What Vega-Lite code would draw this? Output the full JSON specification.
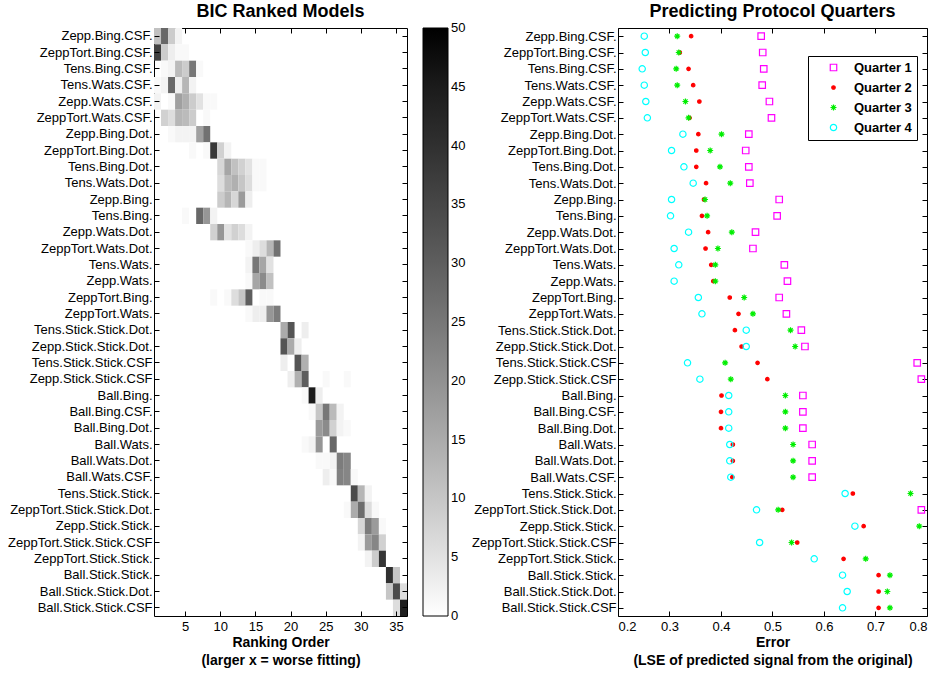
{
  "$schema": "https://vega.github.io/schema/vega-lite/v6.json",
  "padding": {"left": 7, "top": 2, "right": 5, "bottom": 5},
  "background": "white",
  "config": {
    "font": "Liberation Sans",
    "view": {"stroke": "black", "strokeWidth": 1},
    "axis": {"grid": false, "domain": false, "tickColor": "black", "tickSize": -5, "labelFontSize": 13, "labelColor": "black", "titleFontSize": 14, "titleFontWeight": "bold", "titleColor": "black", "labelPadding": 7, "titleLineHeight": 18},
    "axisX": {"labelPadding": 9, "titlePadding": 2},
    "title": {"fontSize": 18, "fontWeight": "bold", "color": "black", "offset": 7}
  },
  "spacing": 4,
  "resolve": {"legend": {"color": "independent", "shape": "independent", "stroke": "independent", "fill": "independent", "size": "independent"}},
  "datasets": {
    "heat": [
      {"model": "Zepp.Bing.CSF.", "rank": 1, "count": 11}, {"model": "Zepp.Bing.CSF.", "rank": 2, "count": 28}, {"model": "Zepp.Bing.CSF.", "rank": 3, "count": 9}, {"model": "Zepp.Bing.CSF.", "rank": 4, "count": 2},
      {"model": "ZeppTort.Bing.CSF.", "rank": 1, "count": 36}, {"model": "ZeppTort.Bing.CSF.", "rank": 2, "count": 9}, {"model": "ZeppTort.Bing.CSF.", "rank": 3, "count": 3}, {"model": "ZeppTort.Bing.CSF.", "rank": 4, "count": 1}, {"model": "ZeppTort.Bing.CSF.", "rank": 5, "count": 1},
      {"model": "Tens.Bing.CSF.", "rank": 2, "count": 1}, {"model": "Tens.Bing.CSF.", "rank": 3, "count": 2}, {"model": "Tens.Bing.CSF.", "rank": 4, "count": 12}, {"model": "Tens.Bing.CSF.", "rank": 5, "count": 9}, {"model": "Tens.Bing.CSF.", "rank": 6, "count": 25}, {"model": "Tens.Bing.CSF.", "rank": 7, "count": 1},
      {"model": "Tens.Wats.CSF.", "rank": 1, "count": 1}, {"model": "Tens.Wats.CSF.", "rank": 2, "count": 2}, {"model": "Tens.Wats.CSF.", "rank": 3, "count": 28}, {"model": "Tens.Wats.CSF.", "rank": 4, "count": 3}, {"model": "Tens.Wats.CSF.", "rank": 5, "count": 13}, {"model": "Tens.Wats.CSF.", "rank": 6, "count": 2},
      {"model": "Zepp.Wats.CSF.", "rank": 1, "count": 2}, {"model": "Zepp.Wats.CSF.", "rank": 3, "count": 1}, {"model": "Zepp.Wats.CSF.", "rank": 4, "count": 17}, {"model": "Zepp.Wats.CSF.", "rank": 5, "count": 14}, {"model": "Zepp.Wats.CSF.", "rank": 6, "count": 9}, {"model": "Zepp.Wats.CSF.", "rank": 7, "count": 5}, {"model": "Zepp.Wats.CSF.", "rank": 8, "count": 1}, {"model": "Zepp.Wats.CSF.", "rank": 9, "count": 1},
      {"model": "ZeppTort.Wats.CSF.", "rank": 2, "count": 8}, {"model": "ZeppTort.Wats.CSF.", "rank": 3, "count": 6}, {"model": "ZeppTort.Wats.CSF.", "rank": 4, "count": 13}, {"model": "ZeppTort.Wats.CSF.", "rank": 5, "count": 12}, {"model": "ZeppTort.Wats.CSF.", "rank": 6, "count": 9}, {"model": "ZeppTort.Wats.CSF.", "rank": 8, "count": 1},
      {"model": "Zepp.Bing.Dot.", "rank": 3, "count": 1}, {"model": "Zepp.Bing.Dot.", "rank": 4, "count": 2}, {"model": "Zepp.Bing.Dot.", "rank": 5, "count": 2}, {"model": "Zepp.Bing.Dot.", "rank": 6, "count": 2}, {"model": "Zepp.Bing.Dot.", "rank": 7, "count": 17}, {"model": "Zepp.Bing.Dot.", "rank": 8, "count": 26},
      {"model": "ZeppTort.Bing.Dot.", "rank": 6, "count": 1}, {"model": "ZeppTort.Bing.Dot.", "rank": 8, "count": 1}, {"model": "ZeppTort.Bing.Dot.", "rank": 9, "count": 38}, {"model": "ZeppTort.Bing.Dot.", "rank": 10, "count": 8}, {"model": "ZeppTort.Bing.Dot.", "rank": 11, "count": 2},
      {"model": "Tens.Bing.Dot.", "rank": 10, "count": 7}, {"model": "Tens.Bing.Dot.", "rank": 11, "count": 16}, {"model": "Tens.Bing.Dot.", "rank": 12, "count": 11}, {"model": "Tens.Bing.Dot.", "rank": 13, "count": 8}, {"model": "Tens.Bing.Dot.", "rank": 14, "count": 5}, {"model": "Tens.Bing.Dot.", "rank": 15, "count": 1}, {"model": "Tens.Bing.Dot.", "rank": 16, "count": 1},
      {"model": "Tens.Wats.Dot.", "rank": 10, "count": 6}, {"model": "Tens.Wats.Dot.", "rank": 11, "count": 12}, {"model": "Tens.Wats.Dot.", "rank": 12, "count": 14}, {"model": "Tens.Wats.Dot.", "rank": 13, "count": 10}, {"model": "Tens.Wats.Dot.", "rank": 14, "count": 6}, {"model": "Tens.Wats.Dot.", "rank": 15, "count": 1}, {"model": "Tens.Wats.Dot.", "rank": 16, "count": 1},
      {"model": "Zepp.Bing.", "rank": 10, "count": 9}, {"model": "Zepp.Bing.", "rank": 11, "count": 13}, {"model": "Zepp.Bing.", "rank": 12, "count": 7}, {"model": "Zepp.Bing.", "rank": 13, "count": 18}, {"model": "Zepp.Bing.", "rank": 14, "count": 3},
      {"model": "Tens.Bing.", "rank": 5, "count": 1}, {"model": "Tens.Bing.", "rank": 7, "count": 28}, {"model": "Tens.Bing.", "rank": 8, "count": 19}, {"model": "Tens.Bing.", "rank": 9, "count": 2},
      {"model": "Zepp.Wats.Dot.", "rank": 9, "count": 8}, {"model": "Zepp.Wats.Dot.", "rank": 10, "count": 19}, {"model": "Zepp.Wats.Dot.", "rank": 11, "count": 5}, {"model": "Zepp.Wats.Dot.", "rank": 12, "count": 8}, {"model": "Zepp.Wats.Dot.", "rank": 13, "count": 6}, {"model": "Zepp.Wats.Dot.", "rank": 14, "count": 2},
      {"model": "ZeppTort.Wats.Dot.", "rank": 14, "count": 1}, {"model": "ZeppTort.Wats.Dot.", "rank": 15, "count": 3}, {"model": "ZeppTort.Wats.Dot.", "rank": 16, "count": 6}, {"model": "ZeppTort.Wats.Dot.", "rank": 17, "count": 13}, {"model": "ZeppTort.Wats.Dot.", "rank": 18, "count": 26},
      {"model": "Tens.Wats.", "rank": 14, "count": 2}, {"model": "Tens.Wats.", "rank": 15, "count": 25}, {"model": "Tens.Wats.", "rank": 16, "count": 16}, {"model": "Tens.Wats.", "rank": 17, "count": 5},
      {"model": "Zepp.Wats.", "rank": 14, "count": 1}, {"model": "Zepp.Wats.", "rank": 15, "count": 16}, {"model": "Zepp.Wats.", "rank": 16, "count": 21}, {"model": "Zepp.Wats.", "rank": 17, "count": 11},
      {"model": "ZeppTort.Bing.", "rank": 9, "count": 1}, {"model": "ZeppTort.Bing.", "rank": 11, "count": 1}, {"model": "ZeppTort.Bing.", "rank": 12, "count": 6}, {"model": "ZeppTort.Bing.", "rank": 13, "count": 10}, {"model": "ZeppTort.Bing.", "rank": 14, "count": 30}, {"model": "ZeppTort.Bing.", "rank": 16, "count": 1}, {"model": "ZeppTort.Bing.", "rank": 17, "count": 1},
      {"model": "ZeppTort.Wats.", "rank": 14, "count": 1}, {"model": "ZeppTort.Wats.", "rank": 15, "count": 3}, {"model": "ZeppTort.Wats.", "rank": 16, "count": 3}, {"model": "ZeppTort.Wats.", "rank": 17, "count": 19}, {"model": "ZeppTort.Wats.", "rank": 18, "count": 24},
      {"model": "Tens.Stick.Stick.Dot.", "rank": 19, "count": 15}, {"model": "Tens.Stick.Stick.Dot.", "rank": 20, "count": 32}, {"model": "Tens.Stick.Stick.Dot.", "rank": 22, "count": 3},
      {"model": "Zepp.Stick.Stick.Dot.", "rank": 19, "count": 32}, {"model": "Zepp.Stick.Stick.Dot.", "rank": 20, "count": 15}, {"model": "Zepp.Stick.Stick.Dot.", "rank": 21, "count": 3},
      {"model": "Tens.Stick.Stick.CSF", "rank": 19, "count": 3}, {"model": "Tens.Stick.Stick.CSF", "rank": 21, "count": 32}, {"model": "Tens.Stick.Stick.CSF", "rank": 22, "count": 14},
      {"model": "Zepp.Stick.Stick.CSF", "rank": 20, "count": 3}, {"model": "Zepp.Stick.Stick.CSF", "rank": 21, "count": 14}, {"model": "Zepp.Stick.Stick.CSF", "rank": 22, "count": 30}, {"model": "Zepp.Stick.Stick.CSF", "rank": 25, "count": 1}, {"model": "Zepp.Stick.Stick.CSF", "rank": 28, "count": 1},
      {"model": "Ball.Bing.", "rank": 22, "count": 1}, {"model": "Ball.Bing.", "rank": 23, "count": 45}, {"model": "Ball.Bing.", "rank": 24, "count": 3},
      {"model": "Ball.Bing.CSF.", "rank": 23, "count": 1}, {"model": "Ball.Bing.CSF.", "rank": 24, "count": 10}, {"model": "Ball.Bing.CSF.", "rank": 25, "count": 25}, {"model": "Ball.Bing.CSF.", "rank": 26, "count": 12}, {"model": "Ball.Bing.CSF.", "rank": 27, "count": 2},
      {"model": "Ball.Bing.Dot.", "rank": 24, "count": 18}, {"model": "Ball.Bing.Dot.", "rank": 25, "count": 21}, {"model": "Ball.Bing.Dot.", "rank": 26, "count": 8}, {"model": "Ball.Bing.Dot.", "rank": 27, "count": 2}, {"model": "Ball.Bing.Dot.", "rank": 28, "count": 1},
      {"model": "Ball.Wats.", "rank": 22, "count": 1}, {"model": "Ball.Wats.", "rank": 23, "count": 2}, {"model": "Ball.Wats.", "rank": 24, "count": 19}, {"model": "Ball.Wats.", "rank": 26, "count": 28},
      {"model": "Ball.Wats.Dot.", "rank": 24, "count": 1}, {"model": "Ball.Wats.Dot.", "rank": 25, "count": 1}, {"model": "Ball.Wats.Dot.", "rank": 26, "count": 2}, {"model": "Ball.Wats.Dot.", "rank": 27, "count": 24}, {"model": "Ball.Wats.Dot.", "rank": 28, "count": 22},
      {"model": "Ball.Wats.CSF.", "rank": 25, "count": 3}, {"model": "Ball.Wats.CSF.", "rank": 26, "count": 1}, {"model": "Ball.Wats.CSF.", "rank": 27, "count": 23}, {"model": "Ball.Wats.CSF.", "rank": 28, "count": 22}, {"model": "Ball.Wats.CSF.", "rank": 29, "count": 1},
      {"model": "Tens.Stick.Stick.", "rank": 29, "count": 34}, {"model": "Tens.Stick.Stick.", "rank": 30, "count": 13}, {"model": "Tens.Stick.Stick.", "rank": 31, "count": 2},
      {"model": "ZeppTort.Stick.Stick.Dot.", "rank": 28, "count": 1}, {"model": "ZeppTort.Stick.Stick.Dot.", "rank": 29, "count": 15}, {"model": "ZeppTort.Stick.Stick.Dot.", "rank": 30, "count": 27}, {"model": "ZeppTort.Stick.Stick.Dot.", "rank": 31, "count": 6}, {"model": "ZeppTort.Stick.Stick.Dot.", "rank": 32, "count": 1},
      {"model": "Zepp.Stick.Stick.", "rank": 30, "count": 7}, {"model": "Zepp.Stick.Stick.", "rank": 31, "count": 24}, {"model": "Zepp.Stick.Stick.", "rank": 32, "count": 18}, {"model": "Zepp.Stick.Stick.", "rank": 33, "count": 1},
      {"model": "ZeppTort.Stick.Stick.CSF", "rank": 30, "count": 2}, {"model": "ZeppTort.Stick.Stick.CSF", "rank": 31, "count": 18}, {"model": "ZeppTort.Stick.Stick.CSF", "rank": 32, "count": 22}, {"model": "ZeppTort.Stick.Stick.CSF", "rank": 33, "count": 8},
      {"model": "ZeppTort.Stick.Stick.", "rank": 31, "count": 2}, {"model": "ZeppTort.Stick.Stick.", "rank": 32, "count": 9}, {"model": "ZeppTort.Stick.Stick.", "rank": 33, "count": 39},
      {"model": "Ball.Stick.Stick.", "rank": 34, "count": 40}, {"model": "Ball.Stick.Stick.", "rank": 35, "count": 10},
      {"model": "Ball.Stick.Stick.Dot.", "rank": 34, "count": 10}, {"model": "Ball.Stick.Stick.Dot.", "rank": 35, "count": 34}, {"model": "Ball.Stick.Stick.Dot.", "rank": 36, "count": 6},
      {"model": "Ball.Stick.Stick.CSF", "rank": 35, "count": 6}, {"model": "Ball.Stick.Stick.CSF", "rank": 36, "count": 44}
    ],
    "err": [
      {"model": "Zepp.Bing.CSF.", "q": "Quarter 1", "e": 0.478}, {"model": "Zepp.Bing.CSF.", "q": "Quarter 2", "e": 0.342}, {"model": "Zepp.Bing.CSF.", "q": "Quarter 3", "e": 0.315}, {"model": "Zepp.Bing.CSF.", "q": "Quarter 4", "e": 0.251},
      {"model": "ZeppTort.Bing.CSF.", "q": "Quarter 1", "e": 0.481}, {"model": "ZeppTort.Bing.CSF.", "q": "Quarter 2", "e": 0.32}, {"model": "ZeppTort.Bing.CSF.", "q": "Quarter 3", "e": 0.318}, {"model": "ZeppTort.Bing.CSF.", "q": "Quarter 4", "e": 0.253},
      {"model": "Tens.Bing.CSF.", "q": "Quarter 1", "e": 0.483}, {"model": "Tens.Bing.CSF.", "q": "Quarter 2", "e": 0.337}, {"model": "Tens.Bing.CSF.", "q": "Quarter 3", "e": 0.313}, {"model": "Tens.Bing.CSF.", "q": "Quarter 4", "e": 0.247},
      {"model": "Tens.Wats.CSF.", "q": "Quarter 1", "e": 0.48}, {"model": "Tens.Wats.CSF.", "q": "Quarter 2", "e": 0.346}, {"model": "Tens.Wats.CSF.", "q": "Quarter 3", "e": 0.315}, {"model": "Tens.Wats.CSF.", "q": "Quarter 4", "e": 0.251},
      {"model": "Zepp.Wats.CSF.", "q": "Quarter 1", "e": 0.494}, {"model": "Zepp.Wats.CSF.", "q": "Quarter 2", "e": 0.358}, {"model": "Zepp.Wats.CSF.", "q": "Quarter 3", "e": 0.331}, {"model": "Zepp.Wats.CSF.", "q": "Quarter 4", "e": 0.254},
      {"model": "ZeppTort.Wats.CSF.", "q": "Quarter 1", "e": 0.498}, {"model": "ZeppTort.Wats.CSF.", "q": "Quarter 2", "e": 0.339}, {"model": "ZeppTort.Wats.CSF.", "q": "Quarter 3", "e": 0.337}, {"model": "ZeppTort.Wats.CSF.", "q": "Quarter 4", "e": 0.257},
      {"model": "Zepp.Bing.Dot.", "q": "Quarter 1", "e": 0.454}, {"model": "Zepp.Bing.Dot.", "q": "Quarter 2", "e": 0.356}, {"model": "Zepp.Bing.Dot.", "q": "Quarter 3", "e": 0.401}, {"model": "Zepp.Bing.Dot.", "q": "Quarter 4", "e": 0.326},
      {"model": "ZeppTort.Bing.Dot.", "q": "Quarter 1", "e": 0.448}, {"model": "ZeppTort.Bing.Dot.", "q": "Quarter 2", "e": 0.352}, {"model": "ZeppTort.Bing.Dot.", "q": "Quarter 3", "e": 0.379}, {"model": "ZeppTort.Bing.Dot.", "q": "Quarter 4", "e": 0.304},
      {"model": "Tens.Bing.Dot.", "q": "Quarter 1", "e": 0.454}, {"model": "Tens.Bing.Dot.", "q": "Quarter 2", "e": 0.352}, {"model": "Tens.Bing.Dot.", "q": "Quarter 3", "e": 0.398}, {"model": "Tens.Bing.Dot.", "q": "Quarter 4", "e": 0.328},
      {"model": "Tens.Wats.Dot.", "q": "Quarter 1", "e": 0.456}, {"model": "Tens.Wats.Dot.", "q": "Quarter 2", "e": 0.371}, {"model": "Tens.Wats.Dot.", "q": "Quarter 3", "e": 0.418}, {"model": "Tens.Wats.Dot.", "q": "Quarter 4", "e": 0.346},
      {"model": "Zepp.Bing.", "q": "Quarter 1", "e": 0.513}, {"model": "Zepp.Bing.", "q": "Quarter 2", "e": 0.367}, {"model": "Zepp.Bing.", "q": "Quarter 3", "e": 0.369}, {"model": "Zepp.Bing.", "q": "Quarter 4", "e": 0.304},
      {"model": "Tens.Bing.", "q": "Quarter 1", "e": 0.509}, {"model": "Tens.Bing.", "q": "Quarter 2", "e": 0.363}, {"model": "Tens.Bing.", "q": "Quarter 3", "e": 0.373}, {"model": "Tens.Bing.", "q": "Quarter 4", "e": 0.302},
      {"model": "Zepp.Wats.Dot.", "q": "Quarter 1", "e": 0.467}, {"model": "Zepp.Wats.Dot.", "q": "Quarter 2", "e": 0.375}, {"model": "Zepp.Wats.Dot.", "q": "Quarter 3", "e": 0.421}, {"model": "Zepp.Wats.Dot.", "q": "Quarter 4", "e": 0.337},
      {"model": "ZeppTort.Wats.Dot.", "q": "Quarter 1", "e": 0.462}, {"model": "ZeppTort.Wats.Dot.", "q": "Quarter 2", "e": 0.37}, {"model": "ZeppTort.Wats.Dot.", "q": "Quarter 3", "e": 0.394}, {"model": "ZeppTort.Wats.Dot.", "q": "Quarter 4", "e": 0.309},
      {"model": "Tens.Wats.", "q": "Quarter 1", "e": 0.523}, {"model": "Tens.Wats.", "q": "Quarter 2", "e": 0.381}, {"model": "Tens.Wats.", "q": "Quarter 3", "e": 0.389}, {"model": "Tens.Wats.", "q": "Quarter 4", "e": 0.318},
      {"model": "Zepp.Wats.", "q": "Quarter 1", "e": 0.529}, {"model": "Zepp.Wats.", "q": "Quarter 2", "e": 0.385}, {"model": "Zepp.Wats.", "q": "Quarter 3", "e": 0.389}, {"model": "Zepp.Wats.", "q": "Quarter 4", "e": 0.309},
      {"model": "ZeppTort.Bing.", "q": "Quarter 1", "e": 0.513}, {"model": "ZeppTort.Bing.", "q": "Quarter 2", "e": 0.417}, {"model": "ZeppTort.Bing.", "q": "Quarter 3", "e": 0.445}, {"model": "ZeppTort.Bing.", "q": "Quarter 4", "e": 0.356},
      {"model": "ZeppTort.Wats.", "q": "Quarter 1", "e": 0.527}, {"model": "ZeppTort.Wats.", "q": "Quarter 2", "e": 0.434}, {"model": "ZeppTort.Wats.", "q": "Quarter 3", "e": 0.462}, {"model": "ZeppTort.Wats.", "q": "Quarter 4", "e": 0.363},
      {"model": "Tens.Stick.Stick.Dot.", "q": "Quarter 1", "e": 0.556}, {"model": "Tens.Stick.Stick.Dot.", "q": "Quarter 2", "e": 0.427}, {"model": "Tens.Stick.Stick.Dot.", "q": "Quarter 3", "e": 0.535}, {"model": "Tens.Stick.Stick.Dot.", "q": "Quarter 4", "e": 0.449},
      {"model": "Zepp.Stick.Stick.Dot.", "q": "Quarter 1", "e": 0.563}, {"model": "Zepp.Stick.Stick.Dot.", "q": "Quarter 2", "e": 0.44}, {"model": "Zepp.Stick.Stick.Dot.", "q": "Quarter 3", "e": 0.544}, {"model": "Zepp.Stick.Stick.Dot.", "q": "Quarter 4", "e": 0.449},
      {"model": "Tens.Stick.Stick.CSF", "q": "Quarter 1", "e": 0.781}, {"model": "Tens.Stick.Stick.CSF", "q": "Quarter 2", "e": 0.471}, {"model": "Tens.Stick.Stick.CSF", "q": "Quarter 3", "e": 0.408}, {"model": "Tens.Stick.Stick.CSF", "q": "Quarter 4", "e": 0.335},
      {"model": "Zepp.Stick.Stick.CSF", "q": "Quarter 1", "e": 0.789}, {"model": "Zepp.Stick.Stick.CSF", "q": "Quarter 2", "e": 0.49}, {"model": "Zepp.Stick.Stick.CSF", "q": "Quarter 3", "e": 0.419}, {"model": "Zepp.Stick.Stick.CSF", "q": "Quarter 4", "e": 0.359},
      {"model": "Ball.Bing.", "q": "Quarter 1", "e": 0.559}, {"model": "Ball.Bing.", "q": "Quarter 2", "e": 0.401}, {"model": "Ball.Bing.", "q": "Quarter 3", "e": 0.525}, {"model": "Ball.Bing.", "q": "Quarter 4", "e": 0.415},
      {"model": "Ball.Bing.CSF.", "q": "Quarter 1", "e": 0.559}, {"model": "Ball.Bing.CSF.", "q": "Quarter 2", "e": 0.4}, {"model": "Ball.Bing.CSF.", "q": "Quarter 3", "e": 0.525}, {"model": "Ball.Bing.CSF.", "q": "Quarter 4", "e": 0.415},
      {"model": "Ball.Bing.Dot.", "q": "Quarter 1", "e": 0.559}, {"model": "Ball.Bing.Dot.", "q": "Quarter 2", "e": 0.4}, {"model": "Ball.Bing.Dot.", "q": "Quarter 3", "e": 0.525}, {"model": "Ball.Bing.Dot.", "q": "Quarter 4", "e": 0.415},
      {"model": "Ball.Wats.", "q": "Quarter 1", "e": 0.577}, {"model": "Ball.Wats.", "q": "Quarter 2", "e": 0.423}, {"model": "Ball.Wats.", "q": "Quarter 3", "e": 0.54}, {"model": "Ball.Wats.", "q": "Quarter 4", "e": 0.417},
      {"model": "Ball.Wats.Dot.", "q": "Quarter 1", "e": 0.577}, {"model": "Ball.Wats.Dot.", "q": "Quarter 2", "e": 0.423}, {"model": "Ball.Wats.Dot.", "q": "Quarter 3", "e": 0.54}, {"model": "Ball.Wats.Dot.", "q": "Quarter 4", "e": 0.417},
      {"model": "Ball.Wats.CSF.", "q": "Quarter 1", "e": 0.577}, {"model": "Ball.Wats.CSF.", "q": "Quarter 2", "e": 0.422}, {"model": "Ball.Wats.CSF.", "q": "Quarter 3", "e": 0.54}, {"model": "Ball.Wats.CSF.", "q": "Quarter 4", "e": 0.419},
      {"model": "Tens.Stick.Stick.", "q": "Quarter 2", "e": 0.656}, {"model": "Tens.Stick.Stick.", "q": "Quarter 3", "e": 0.768}, {"model": "Tens.Stick.Stick.", "q": "Quarter 4", "e": 0.641},
      {"model": "ZeppTort.Stick.Stick.Dot.", "q": "Quarter 1", "e": 0.789}, {"model": "ZeppTort.Stick.Stick.Dot.", "q": "Quarter 2", "e": 0.519}, {"model": "ZeppTort.Stick.Stick.Dot.", "q": "Quarter 3", "e": 0.511}, {"model": "ZeppTort.Stick.Stick.Dot.", "q": "Quarter 4", "e": 0.469},
      {"model": "Zepp.Stick.Stick.", "q": "Quarter 2", "e": 0.677}, {"model": "Zepp.Stick.Stick.", "q": "Quarter 3", "e": 0.785}, {"model": "Zepp.Stick.Stick.", "q": "Quarter 4", "e": 0.66},
      {"model": "ZeppTort.Stick.Stick.CSF", "q": "Quarter 2", "e": 0.548}, {"model": "ZeppTort.Stick.Stick.CSF", "q": "Quarter 3", "e": 0.537}, {"model": "ZeppTort.Stick.Stick.CSF", "q": "Quarter 4", "e": 0.475},
      {"model": "ZeppTort.Stick.Stick.", "q": "Quarter 2", "e": 0.638}, {"model": "ZeppTort.Stick.Stick.", "q": "Quarter 3", "e": 0.681}, {"model": "ZeppTort.Stick.Stick.", "q": "Quarter 4", "e": 0.581},
      {"model": "Ball.Stick.Stick.", "q": "Quarter 2", "e": 0.706}, {"model": "Ball.Stick.Stick.", "q": "Quarter 3", "e": 0.728}, {"model": "Ball.Stick.Stick.", "q": "Quarter 4", "e": 0.636},
      {"model": "Ball.Stick.Stick.Dot.", "q": "Quarter 2", "e": 0.706}, {"model": "Ball.Stick.Stick.Dot.", "q": "Quarter 3", "e": 0.723}, {"model": "Ball.Stick.Stick.Dot.", "q": "Quarter 4", "e": 0.645},
      {"model": "Ball.Stick.Stick.CSF", "q": "Quarter 2", "e": 0.706}, {"model": "Ball.Stick.Stick.CSF", "q": "Quarter 3", "e": 0.728}, {"model": "Ball.Stick.Stick.CSF", "q": "Quarter 4", "e": 0.636}
    ]
  },
  "hconcat": [
    {
      "title": "BIC Ranked Models",
      "width": 253,
      "height": 588,
      "data": {"name": "heat"},
      "resolve": {"axis": {"x": "independent", "y": "independent"}},
      "layer": [
        {
          "mark": {"type": "rect"},
          "encoding": {
            "x": {"field": "rank", "type": "ordinal", "scale": {"domain": [1,2,3,4,5,6,7,8,9,10,11,12,13,14,15,16,17,18,19,20,21,22,23,24,25,26,27,28,29,30,31,32,33,34,35,36], "paddingInner": 0, "paddingOuter": 0}, "axis": {"values": [5,10,15,20,25,30,35], "labelAngle": 0, "title": ["Ranking Order", "(larger x = worse fitting)"]}},
            "y": {"field": "model", "type": "nominal", "sort": null, "scale": {"domain": ["Zepp.Bing.CSF.","ZeppTort.Bing.CSF.","Tens.Bing.CSF.","Tens.Wats.CSF.","Zepp.Wats.CSF.","ZeppTort.Wats.CSF.","Zepp.Bing.Dot.","ZeppTort.Bing.Dot.","Tens.Bing.Dot.","Tens.Wats.Dot.","Zepp.Bing.","Tens.Bing.","Zepp.Wats.Dot.","ZeppTort.Wats.Dot.","Tens.Wats.","Zepp.Wats.","ZeppTort.Bing.","ZeppTort.Wats.","Tens.Stick.Stick.Dot.","Zepp.Stick.Stick.Dot.","Tens.Stick.Stick.CSF","Zepp.Stick.Stick.CSF","Ball.Bing.","Ball.Bing.CSF.","Ball.Bing.Dot.","Ball.Wats.","Ball.Wats.Dot.","Ball.Wats.CSF.","Tens.Stick.Stick.","ZeppTort.Stick.Stick.Dot.","Zepp.Stick.Stick.","ZeppTort.Stick.Stick.CSF","ZeppTort.Stick.Stick.","Ball.Stick.Stick.","Ball.Stick.Stick.Dot.","Ball.Stick.Stick.CSF"], "paddingInner": 0, "paddingOuter": 0}, "axis": {"title": null}},
            "color": {"field": "count", "type": "quantitative", "scale": {"domain": [0, 50], "range": ["#ffffff", "#000000"]}, "legend": {"title": null, "orient": "right", "offset": 15, "gradientLength": 588, "gradientThickness": 25, "values": [0,5,10,15,20,25,30,35,40,45,50], "labelFontSize": 13, "labelColor": "black", "gradientStrokeColor": "black", "gradientStrokeWidth": 1, "labelOffset": 3, "encode": {"labels": {"update": {"baseline": {"value": "middle"}}}}}}
          }
        },
        {
          "mark": {"type": "rect", "opacity": 0},
          "encoding": {
            "x": {"field": "rank", "type": "ordinal", "scale": {"domain": [1,2,3,4,5,6,7,8,9,10,11,12,13,14,15,16,17,18,19,20,21,22,23,24,25,26,27,28,29,30,31,32,33,34,35,36], "paddingInner": 0, "paddingOuter": 0}, "axis": {"orient": "top", "values": [5,10,15,20,25,30,35], "labels": false, "title": null}},
            "y": {"field": "model", "type": "nominal", "sort": null, "scale": {"domain": ["Zepp.Bing.CSF.","ZeppTort.Bing.CSF.","Tens.Bing.CSF.","Tens.Wats.CSF.","Zepp.Wats.CSF.","ZeppTort.Wats.CSF.","Zepp.Bing.Dot.","ZeppTort.Bing.Dot.","Tens.Bing.Dot.","Tens.Wats.Dot.","Zepp.Bing.","Tens.Bing.","Zepp.Wats.Dot.","ZeppTort.Wats.Dot.","Tens.Wats.","Zepp.Wats.","ZeppTort.Bing.","ZeppTort.Wats.","Tens.Stick.Stick.Dot.","Zepp.Stick.Stick.Dot.","Tens.Stick.Stick.CSF","Zepp.Stick.Stick.CSF","Ball.Bing.","Ball.Bing.CSF.","Ball.Bing.Dot.","Ball.Wats.","Ball.Wats.Dot.","Ball.Wats.CSF.","Tens.Stick.Stick.","ZeppTort.Stick.Stick.Dot.","Zepp.Stick.Stick.","ZeppTort.Stick.Stick.CSF","ZeppTort.Stick.Stick.","Ball.Stick.Stick.","Ball.Stick.Stick.Dot.","Ball.Stick.Stick.CSF"], "paddingInner": 0, "paddingOuter": 0}, "axis": {"orient": "right", "labels": false, "title": null}}
          }
        }
      ]
    },
    {
      "title": "Predicting Protocol Quarters",
      "width": 309,
      "height": 588,
      "data": {"name": "err"},
      "resolve": {"axis": {"x": "independent", "y": "independent"}},
      "layer": [
        {
          "mark": {"type": "point", "strokeWidth": 1.2, "opacity": 1},
          "encoding": {
            "x": {"field": "e", "type": "quantitative", "scale": {"domain": [0.2, 0.8], "nice": false, "zero": false}, "axis": {"values": [0.2,0.3,0.4,0.5,0.6,0.7,0.8], "format": ".1f", "title": ["Error", "(LSE of predicted signal from the original)"]}},
            "y": {"field": "model", "type": "nominal", "sort": null, "scale": {"domain": ["Zepp.Bing.CSF.","ZeppTort.Bing.CSF.","Tens.Bing.CSF.","Tens.Wats.CSF.","Zepp.Wats.CSF.","ZeppTort.Wats.CSF.","Zepp.Bing.Dot.","ZeppTort.Bing.Dot.","Tens.Bing.Dot.","Tens.Wats.Dot.","Zepp.Bing.","Tens.Bing.","Zepp.Wats.Dot.","ZeppTort.Wats.Dot.","Tens.Wats.","Zepp.Wats.","ZeppTort.Bing.","ZeppTort.Wats.","Tens.Stick.Stick.Dot.","Zepp.Stick.Stick.Dot.","Tens.Stick.Stick.CSF","Zepp.Stick.Stick.CSF","Ball.Bing.","Ball.Bing.CSF.","Ball.Bing.Dot.","Ball.Wats.","Ball.Wats.Dot.","Ball.Wats.CSF.","Tens.Stick.Stick.","ZeppTort.Stick.Stick.Dot.","Zepp.Stick.Stick.","ZeppTort.Stick.Stick.CSF","ZeppTort.Stick.Stick.","Ball.Stick.Stick.","Ball.Stick.Stick.Dot.","Ball.Stick.Stick.CSF"]}, "axis": {"title": null}},
            "shape": {"field": "q", "type": "nominal", "scale": {"domain": ["Quarter 1","Quarter 2","Quarter 3","Quarter 4"], "range": ["square", "circle", "M-1,0L1,0M0,-1L0,1M-0.7,-0.7L0.7,0.7M-0.7,0.7L0.7,-0.7", "circle"]}, "legend": {"title": null, "orient": "none", "legendX": 190, "legendY": 28, "padding": 5, "strokeColor": "black", "fillColor": "white", "symbolOffset": 14, "labelOffset": 14, "rowPadding": 6, "labelFontSize": 13, "labelFontWeight": "bold", "labelColor": "black", "symbolStrokeWidth": 1.2}},
            "stroke": {"field": "q", "type": "nominal", "scale": {"domain": ["Quarter 1","Quarter 2","Quarter 3","Quarter 4"], "range": ["#ff00ff", "#ff0000", "#00ee00", "#00ffff"]}, "legend": {"title": null, "orient": "none", "legendX": 190, "legendY": 28, "padding": 5, "strokeColor": "black", "fillColor": "white", "symbolOffset": 14, "labelOffset": 14, "rowPadding": 6, "labelFontSize": 13, "labelFontWeight": "bold", "labelColor": "black", "symbolStrokeWidth": 1.2}},
            "fill": {"field": "q", "type": "nominal", "scale": {"domain": ["Quarter 1","Quarter 2","Quarter 3","Quarter 4"], "range": ["transparent", "#ff0000", "transparent", "transparent"]}, "legend": {"title": null, "orient": "none", "legendX": 190, "legendY": 28, "padding": 5, "strokeColor": "black", "fillColor": "white", "symbolOffset": 14, "labelOffset": 14, "rowPadding": 6, "labelFontSize": 13, "labelFontWeight": "bold", "labelColor": "black", "symbolStrokeWidth": 1.2}},
            "size": {"field": "q", "type": "nominal", "scale": {"type": "ordinal", "domain": ["Quarter 1","Quarter 2","Quarter 3","Quarter 4"], "range": [42, 12, 36, 40]}, "legend": {"title": null, "orient": "none", "legendX": 190, "legendY": 28, "padding": 5, "strokeColor": "black", "fillColor": "white", "symbolOffset": 14, "labelOffset": 14, "rowPadding": 6, "labelFontSize": 13, "labelFontWeight": "bold", "labelColor": "black", "symbolStrokeWidth": 1.2}}
          }
        },
        {
          "mark": {"type": "point", "opacity": 0},
          "encoding": {
            "x": {"field": "e", "type": "quantitative", "scale": {"domain": [0.2, 0.8], "nice": false, "zero": false}, "axis": {"orient": "top", "values": [0.2,0.3,0.4,0.5,0.6,0.7,0.8], "labels": false, "title": null}},
            "y": {"field": "model", "type": "nominal", "sort": null, "scale": {"domain": ["Zepp.Bing.CSF.","ZeppTort.Bing.CSF.","Tens.Bing.CSF.","Tens.Wats.CSF.","Zepp.Wats.CSF.","ZeppTort.Wats.CSF.","Zepp.Bing.Dot.","ZeppTort.Bing.Dot.","Tens.Bing.Dot.","Tens.Wats.Dot.","Zepp.Bing.","Tens.Bing.","Zepp.Wats.Dot.","ZeppTort.Wats.Dot.","Tens.Wats.","Zepp.Wats.","ZeppTort.Bing.","ZeppTort.Wats.","Tens.Stick.Stick.Dot.","Zepp.Stick.Stick.Dot.","Tens.Stick.Stick.CSF","Zepp.Stick.Stick.CSF","Ball.Bing.","Ball.Bing.CSF.","Ball.Bing.Dot.","Ball.Wats.","Ball.Wats.Dot.","Ball.Wats.CSF.","Tens.Stick.Stick.","ZeppTort.Stick.Stick.Dot.","Zepp.Stick.Stick.","ZeppTort.Stick.Stick.CSF","ZeppTort.Stick.Stick.","Ball.Stick.Stick.","Ball.Stick.Stick.Dot.","Ball.Stick.Stick.CSF"]}, "axis": {"orient": "right", "labels": false, "title": null}}
          }
        }
      ]
    }
  ]
}
